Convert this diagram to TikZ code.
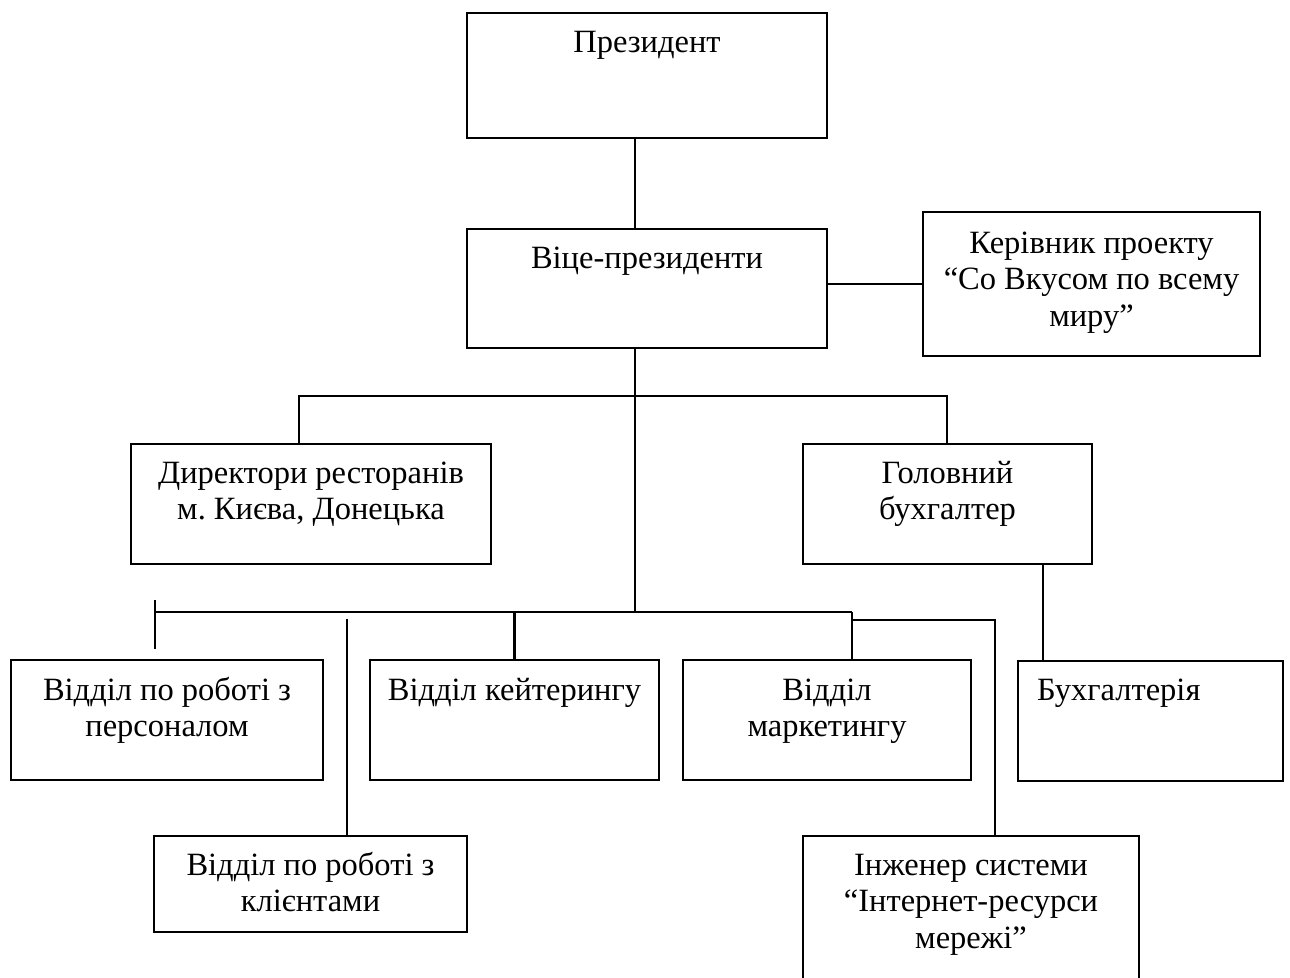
\documentclass[tikz,border=0pt]{standalone}
\usepackage{fontspec}
\setmainfont{Liberation Serif}
\frenchspacing
\newcommand{\bxt}[4][39]{\parbox[t][#3pt][t]{#2pt}{\centering\rule{0pt}{#1pt}#4}}
\begin{document}
\begin{tikzpicture}[x=1pt,y=-1pt,
  box/.style={draw, line width=2.2pt, inner sep=0pt, font=\fontsize{32.5}{36.5}\selectfont},
  conn/.style={line width=2.2pt}]
\useasboundingbox (0,0) rectangle (1290,977);
% boxes
\node[box] (pres) at (647,75.5) {\bxt{360}{125}{Президент}};
\node[box] (vp) at (647,288.5) {\bxt{360}{119}{Віце-президенти}};
\node[box] (ker) at (1091.5,284) {\bxt[41]{337}{144}{Керівник проекту\\“Со Вкусом по всему\\миру”}};
\node[box] (dir) at (311,504) {\bxt{360}{120}{Директори ресторанів\\м. Києва, Донецька}};
\node[box] (gol) at (947.5,504) {\bxt{289}{120}{Головний\\бухгалтер}};
\node[box] (pers) at (167,720) {\bxt[40]{312}{120}{Відділ по роботі з\\персоналом}};
\node[box] (ket) at (514.5,720) {\bxt[40]{289}{120}{Відділ кейтерингу}};
\node[box] (mar) at (827,720) {\bxt[40]{288}{120}{Відділ\\маркетингу}};
\node[box] (buh) at (1150.5,721) {\parbox[t][120pt][t]{265pt}{\raggedright\rule{0pt}{39pt}\hspace*{19pt}Бухгалтерія}};
\node[box] (kli) at (310.5,884) {\bxt{313}{96}{Відділ по роботі з\\клієнтами}};
\node[box] (ing) at (971,918) {\bxt{336}{164}{Інженер системи\\“Інтернет-ресурси\\мережі”}};
% coordinates
\coordinate (trunk) at (635,612);
\coordinate (d1) at (299,396);
\coordinate (g1) at (947,396);
\coordinate (bl) at (155,612);
\coordinate (br) at (852,612);
\coordinate (t1) at (155,600);
\coordinate (t2) at (155,649);
\coordinate (k1) at (347,619);
\coordinate (i1) at (852,620);
\coordinate (i2) at (995,620);
\coordinate (gb) at (1043,0);
% connectors
\draw[conn] (pres.south -| trunk) -- (vp.north -| trunk);
\draw[conn] (vp.east |- ker.west) -- (ker.west);
\draw[conn] (vp.south -| trunk) -- (trunk);
\draw[conn] (dir.north -| d1) -- (d1) -- (g1) -- (gol.north -| g1);
\draw[conn] (bl) -- (br);
\draw[conn] (t1) -- (t2);
\draw[conn] (ket.north |- bl) -- (ket.north);
\draw[conn] (br) -- (mar.north -| br);
\draw[conn] (i1) -- (i2) -- (ing.north -| i2);
\draw[conn] (k1) -- (kli.north -| k1);
\draw[conn] (gol.south -| gb) -- (buh.north -| gb);
\end{tikzpicture}
\end{document}
